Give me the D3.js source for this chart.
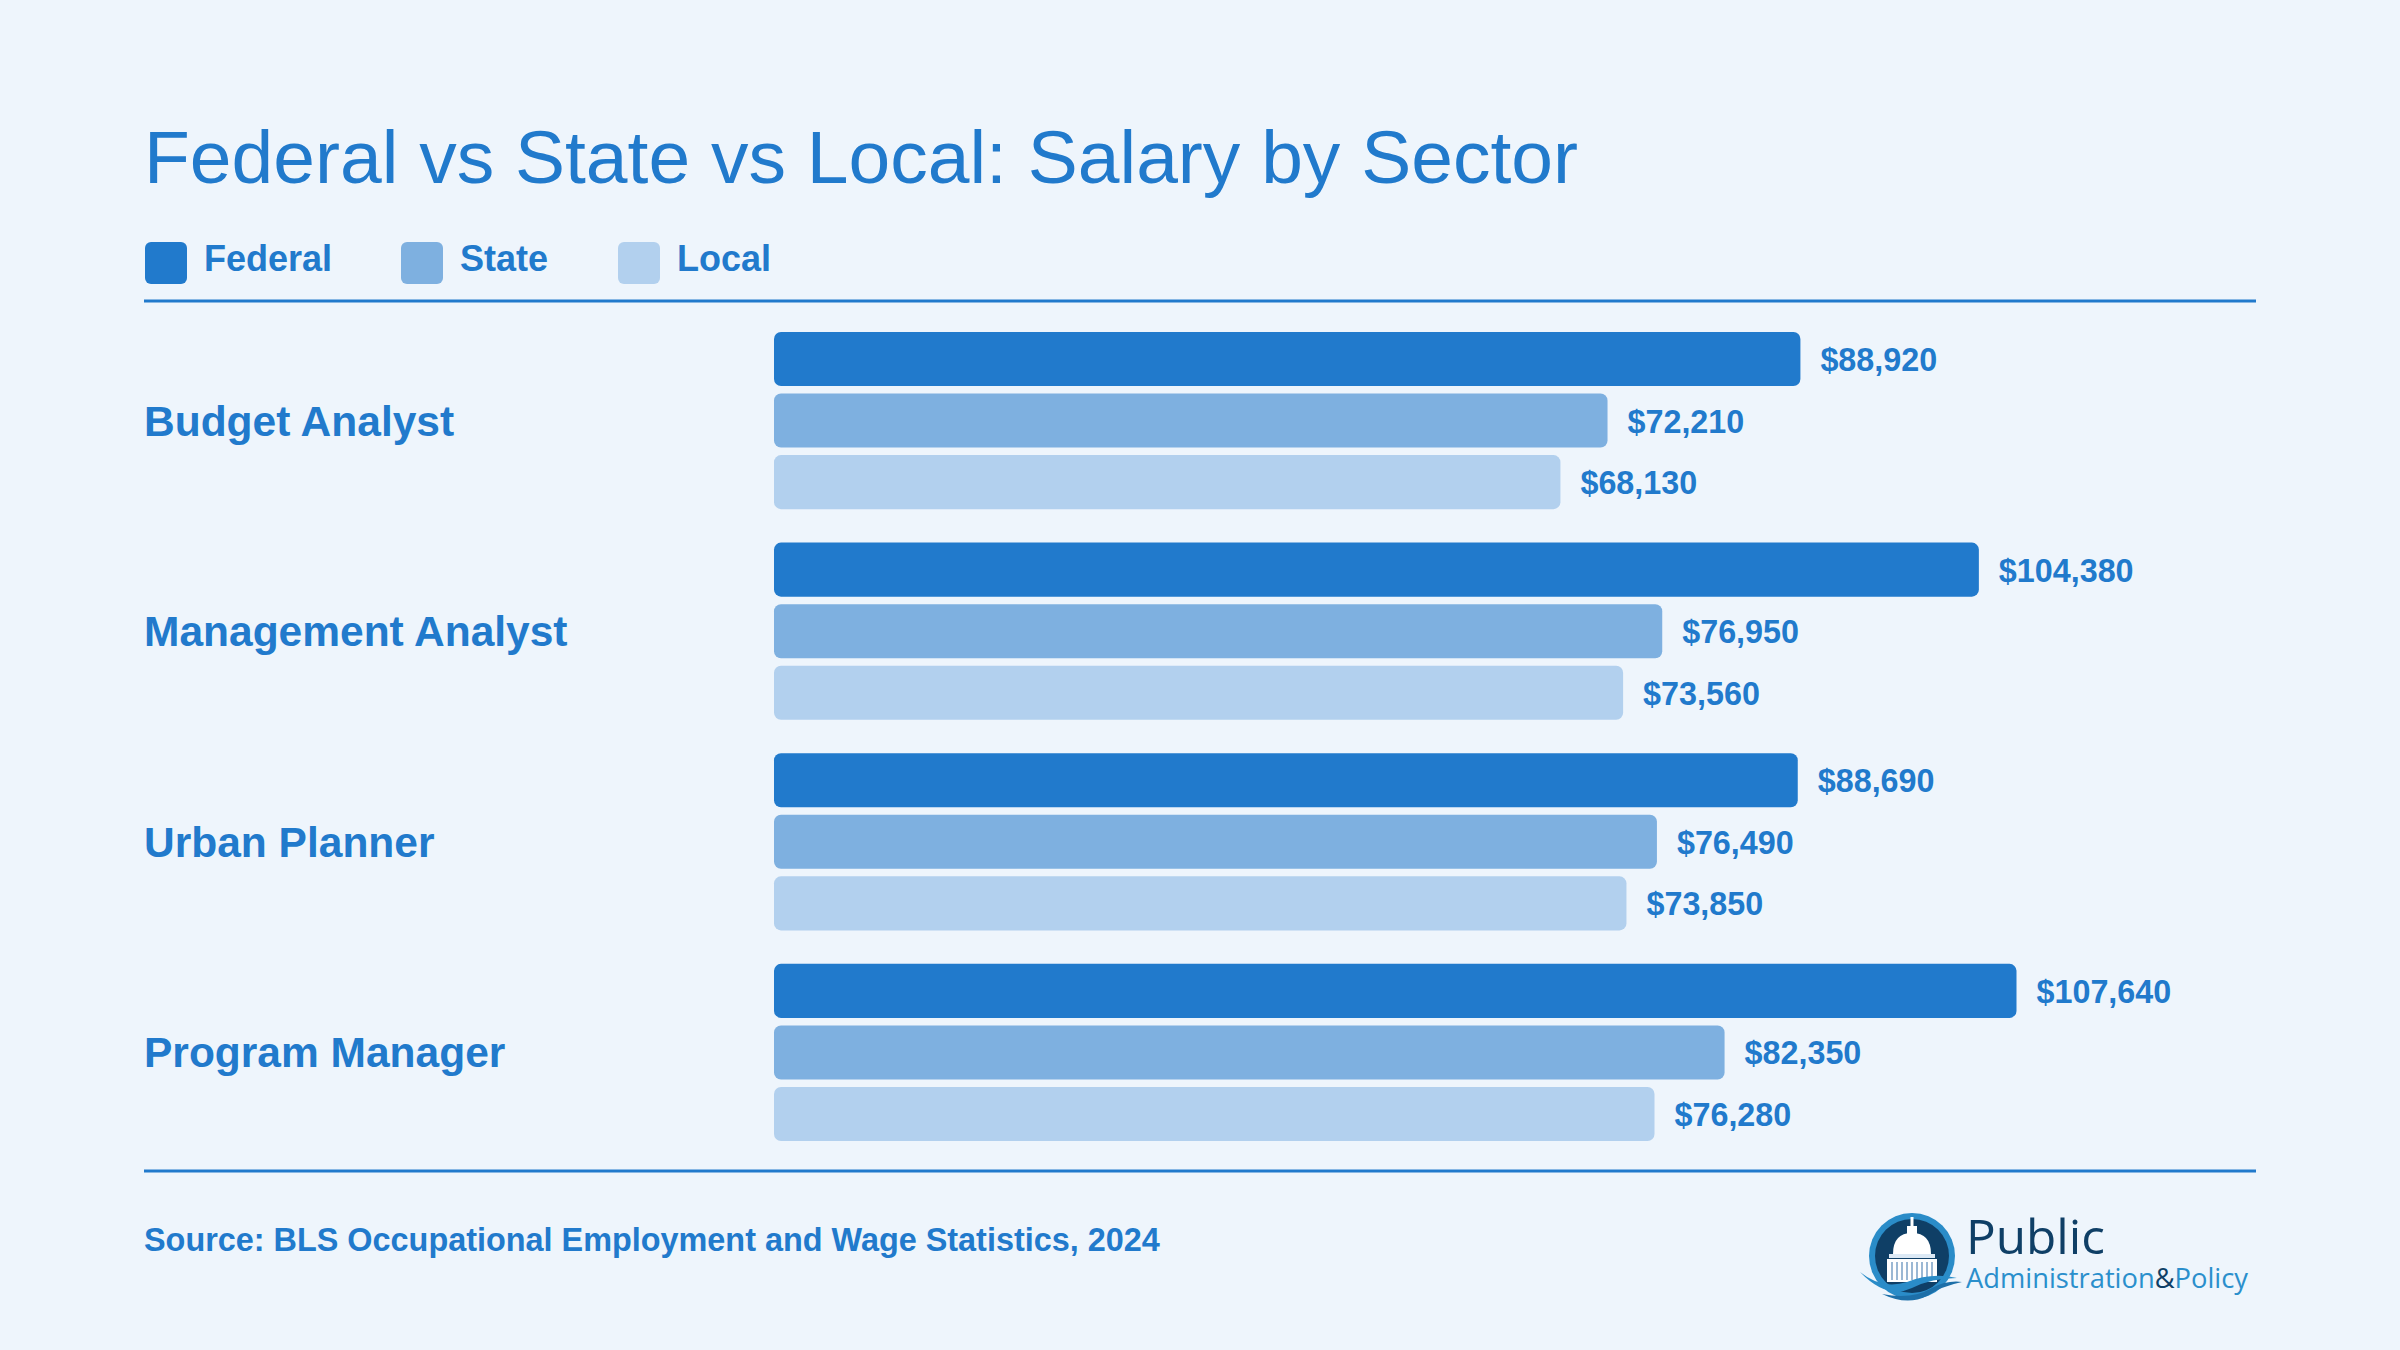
<!DOCTYPE html>
<html>
<head>
<meta charset="utf-8">
<script src="https://cdn.jsdelivr.net/npm/d3@7"></script>
<style>
  html, body { margin: 0; padding: 0; background: #eef5fc; }
  svg { display: block; }
</style>
</head>
<body>
<div id="chart"></div>
<script>
// Chart data
const occupations = ['Budget Analyst', 'Management Analyst', 'Urban Planner', 'Program Manager'];
const sectors = ['Federal', 'State', 'Local'];
const federalPay = [88920, 104380, 88690, 107640];
const statePay = [72210, 76950, 76490, 82350];
const localPay = [68130, 73560, 73850, 76280];
const sectorColors = ['#217acc', '#7eb0e0', '#b2d0ee'];

const titleText = 'Federal vs State vs Local: Salary by Sector';
const sourceText = 'Source: BLS Occupational Employment and Wage Statistics, 2024';

const width = 2400;
const height = 1350;
const textColor = '#217acc';
const font = '"Liberation Sans", Arial, Helvetica, sans-serif';

const svg = d3.select('#chart')
    .append('svg')
    .attr('width', width)
    .attr('height', height)
    .style('background', '#eef5fc');

// Title
svg.append('text')
    .attr('x', 144)
    .attr('y', 183)
    .attr('fill', textColor)
    .attr('font-family', font)
    .attr('font-size', 75)
    .text(titleText);

// Legend
const legend = svg.append('g');
const legendX = [145, 401, 618];
sectors.forEach((s, i) => {
    const g = legend.append('g').attr('transform', `translate(${legendX[i]},242)`);
    g.append('rect')
        .attr('width', 42).attr('height', 42)
        .attr('rx', 6)
        .attr('fill', sectorColors[i]);
    g.append('text')
        .attr('x', 59)
        .attr('y', 29)
        .attr('fill', textColor)
        .attr('font-family', font)
        .attr('font-weight', 'bold')
        .attr('font-size', 36)
        .text(s);
});

// Divider lines
[301, 1171].forEach(y => {
    svg.append('line')
        .attr('x1', 144).attr('x2', 2256)
        .attr('y1', y).attr('y2', y)
        .attr('stroke', textColor)
        .attr('stroke-width', 3);
});

// Scales
const seriesValues = [federalPay, statePay, localPay];
const maxPay = d3.max(federalPay);

const x = d3.scaleLinear()
    .domain([0, maxPay * 1.2])
    .range([774, 2265]);

const yGroup = d3.scaleBand()
    .domain(occupations)
    .range([332, 1141])
    .paddingInner(0.159)
    .paddingOuter(0);

const yBar = d3.scaleBand()
    .domain(sectors)
    .range([0, yGroup.bandwidth()])
    .paddingInner(0.122);

const groups = svg.append('g')
    .selectAll('g')
    .data(occupations)
    .join('g')
    .attr('transform', d => `translate(0,${yGroup(d)})`);

// Occupation labels
groups.append('text')
    .attr('x', 144)
    .attr('y', yGroup.bandwidth() / 2 + 15)
    .attr('fill', textColor)
    .attr('font-family', font)
    .attr('font-weight', 'bold')
    .attr('font-size', 42.5)
    .text(d => d);

// Bars and value labels
groups.each(function(occ, oi) {
    const g = d3.select(this);
    const rows = sectors.map((s, si) => ({ sector: s, value: seriesValues[si][oi], color: sectorColors[si] }));

    g.selectAll('rect')
        .data(rows)
        .join('rect')
        .attr('x', x(0))
        .attr('y', d => yBar(d.sector))
        .attr('width', d => x(d.value) - x(0))
        .attr('height', yBar.bandwidth())
        .attr('rx', 7)
        .attr('fill', d => d.color);

    g.selectAll('text.val')
        .data(rows)
        .join('text')
        .attr('class', 'val')
        .attr('x', d => x(d.value) + 20)
        .attr('y', d => yBar(d.sector) + yBar.bandwidth() / 2 + 12)
        .attr('fill', textColor)
        .attr('font-family', font)
        .attr('font-weight', 'bold')
        .attr('font-size', 32.3)
        .text(d => '$' + d3.format(',')(d.value));
});

// Source
svg.append('text')
    .attr('x', 144)
    .attr('y', 1251)
    .attr('fill', textColor)
    .attr('font-family', font)
    .attr('font-weight', 'bold')
    .attr('font-size', 32.4)
    .text(sourceText);

// Logo
const logo = svg.append('g').attr('transform', 'translate(1912,1256)');
logo.append('circle').attr('r', 43).attr('fill', '#2a8cc8');
logo.append('circle').attr('r', 37).attr('fill', '#0f3f66');
// dome
logo.append('rect').attr('x', -1.5).attr('y', -39).attr('width', 3).attr('height', 10).attr('fill', '#fff');
logo.append('rect').attr('x', -5).attr('y', -30).attr('width', 10).attr('height', 10).attr('fill', '#fff');
logo.append('path').attr('d', 'M-19,-2 Q-19,-23 0,-23 Q19,-23 19,-2 Z').attr('fill', '#fff');
logo.append('rect').attr('x', -23).attr('y', -2).attr('width', 46).attr('height', 4).attr('fill', '#dce9f5');
logo.append('rect').attr('x', -25).attr('y', 3).attr('width', 50).attr('height', 23).attr('fill', '#fff');
d3.range(-20, 21, 5).forEach(cx => {
    logo.append('rect').attr('x', cx - 1).attr('y', 6).attr('width', 2).attr('height', 18).attr('fill', '#9bb8d4');
});
// waves
logo.append('path')
    .attr('d', 'M-52,16 Q-30,34 -5,26 Q20,16 45,22 Q20,22 0,32 Q-25,44 -52,16 Z')
    .attr('fill', '#2a8cc8');
logo.append('path')
    .attr('d', 'M-30,38 Q0,44 20,32 Q35,24 50,26 Q30,30 15,40 Q-5,50 -30,38 Z')
    .attr('fill', '#1d6fa8');

svg.append('text')
    .attr('x', 1966)
    .attr('y', 1254)
    .attr('fill', '#0f3f66')
    .attr('font-family', '"Open Sans", sans-serif')
    .attr('font-size', 48)
    .attr('textLength', 139)
    .attr('lengthAdjust', 'spacingAndGlyphs')
    .text('Public');

const sub = svg.append('text')
    .attr('x', 1966)
    .attr('y', 1288)
    .attr('font-family', '"Open Sans", sans-serif')
    .attr('font-size', 28)
    .attr('textLength', 282)
    .attr('lengthAdjust', 'spacingAndGlyphs');
sub.append('tspan').attr('fill', '#2a8fcc').text('Administration');
sub.append('tspan').attr('fill', '#0f3f66').text('&');
sub.append('tspan').attr('fill', '#2a8fcc').text('Policy');
</script>
</body>
</html>
